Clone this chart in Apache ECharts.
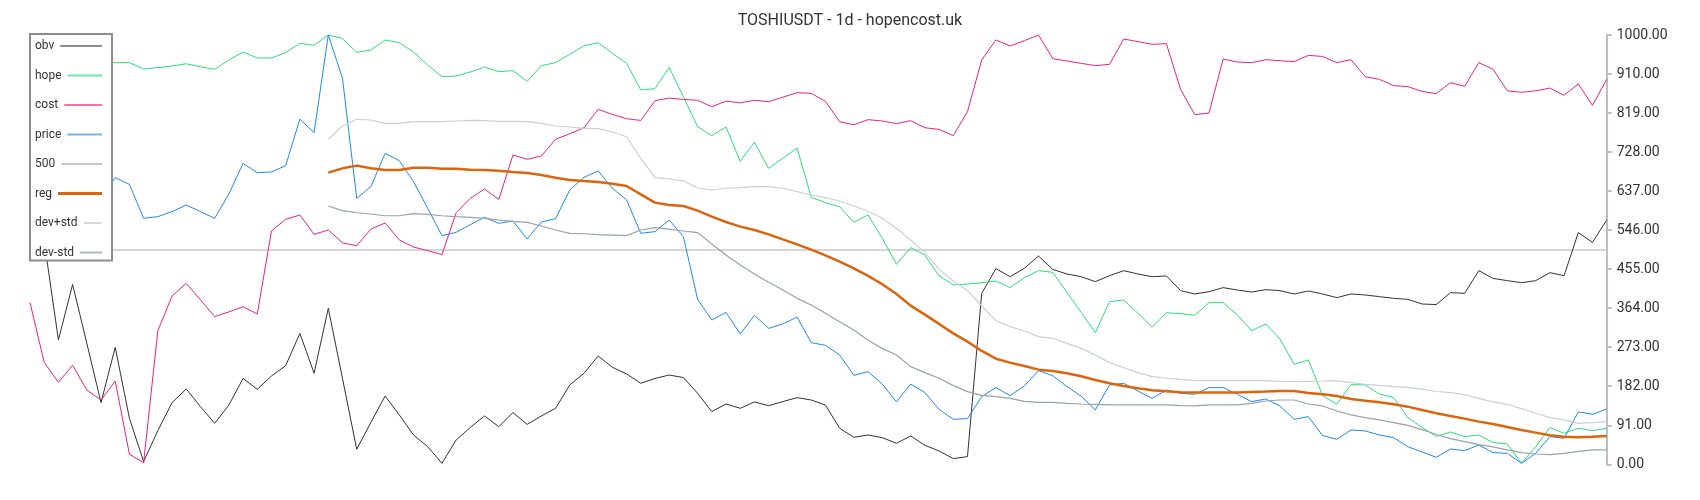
<!DOCTYPE html>
<html>
<head>
<meta charset="utf-8">
<script src="https://cdn.jsdelivr.net/npm/echarts@6/dist/echarts.min.js"></script>
<style>
html,body{margin:0;padding:0;background:#fff;}
#chart{width:1700px;height:500px;}
</style>
</head>
<body>
<div id="chart"></div>
<script>
// ---- data ----
const titleText = 'TOSHIUSDT - 1d - hopencost.uk';
const seriesNames = ['obv', 'hope', 'cost', 'price', '500', 'reg', 'dev+std', 'dev-std'];
const yTickLabels = ['0.00','91.00','182.00','273.00','364.00','455.00','546.00','637.00','728.00','819.00','910.00','1000.00'];
const level500 = 500;

const obv = [620,520,289.6,419,282,143.6,272.5,107,6.2,78.4,143.6,175.5,134.3,95.5,138,200,174.7,205.7,229.8,305,
212,363.4,200,35,97.8,159,115,68.3,41,2.3,56.7,86,112.6,87.7,120.3,93,112.6,130.4,184.8,212,
252.3,226,210.4,188.7,200,208,202,165.4,122.7,140.5,130.4,145.2,136.6,146,155.3,149.8,138,83.9,62.9,68.3,
62,49,66,44.3,31,13.2,17.9,398.3,455.7,437,456.5,485.2,454,443.3,437,425.5,439.4,451,443.3,437,
438.7,404.5,396.7,402,411.5,406,401.4,406.8,404.5,396.7,403.7,396.7,388.2,396.7,394.4,390.5,386.6,384.3,373.4,372,
399.8,398.3,451,433,427.8,423,427.8,446.4,439.4,539.6,517,569];

const hope = [930,935,932,928,934,936,935.6,935.6,920.8,924,927.8,933,926,920,941.8,960.4,946.4,946.4,958.9,980.6,
976,1000,992,959.6,965,988.4,982,960.4,930,903,904.5,913.8,925.5,914.6,917,892,928.6,935.6,955,975,
982,957.3,934,872,875,924.7,856,786.5,765.5,785.7,705.7,750,689.4,712.7,736.8,622,609.5,600,563.7,580.7,
526.4,465.8,504.7,487.6,438.7,417.7,420,423,427,411.5,434.8,451,447.2,400.6,354,306.7,378.9,382.8,351.7,319,
353,351,347,376.6,376.6,347.8,311.3,327,292,233,243,160,139.8,185.6,184.8,163.8,155.3,108.7,86,65,
75.3,64.4,68.3,50.5,47.4,2.3,41,85.4,72.2,83.9,78.4,83.9];

const cost = [376.6,237.6,191,230.6,173,149.8,194,23.3,3.9,311,392,421.6,382.8,344,355,367,350,543.5,570.7,580.7,
535.7,545.8,516,509,548,562,522.5,506,497.7,488.4,586,619.6,641.3,617,720.5,710.4,718.2,757,770,784,
827,815,805,801,847,853,850,848,833,846,842,848,844.7,855,865.7,864,845.5,798,791,802.8,
799.7,793.5,800.5,784,780,765.5,821.4,941.8,988.4,974.4,986.8,1000,945,939.4,934,928.6,931.7,990.7,984.5,978.3,
979.8,873.4,814.4,818.3,944,937,935.6,942.5,940,938,952.6,950,935.6,942.5,903,896.7,882,879.7,868.5,863.5,
889,880.4,935.6,920,870,866.5,870,876.5,859.5,886,836,896.7];

const price = [650,640,655,630,625,617,667.7,652,573,576.9,588.5,604,588.5,573,629.7,701,679.3,681,695.7,804,
772.5,1000,899,619.6,646.7,724.4,707.3,658.4,596.3,532.6,540.4,558.2,575.3,561.3,566.8,524.8,564.4,572.2,639,668.5,
683.2,642.9,615.7,538,542,569,530,384.3,336,354,303.6,347,316.8,326.9,343,283.4,277.2,254.7,207.3,215.8,
187,145.2,187,167,128,104.8,106.4,157.6,178.6,160,182.5,218.2,206.5,181,159,126.6,184.8,188.7,170.8,153.4,
173,165.4,163,178.6,178.6,163,146,152,135.9,104.8,111,66.8,58.2,80,77.6,68.3,62,41,28.7,16.3,
35.7,31.8,45,27.2,25.6,2.3,25.6,64.4,60.6,122,116.5,128.9];

const reg = [null,null,null,null,null,null,null,null,null,null,null,null,null,null,null,null,null,null,null,null,
null,679.3,689.4,695.7,689.4,685.6,685.6,691,691,688.5,688.5,686.3,685.6,684,681,678.6,674,667.7,662.3,660,
657.6,653.7,648.3,628.9,609.5,604,601.7,590.8,576.9,564.4,553.6,545.8,535.7,524,512.4,500,486.8,472,456.5,439,
419.3,396.7,369.6,348.6,327,305,285.7,264,246,236.8,229,220.5,217.4,212,205,196.4,188.7,182.5,177,172.7,
170,167.7,167,167,167,167,168.5,169.3,170.8,170.8,166,163,159,152,148.3,144.4,139.8,134.3,126.6,118.8,
112.6,106.4,99.4,94,87,80,73.8,67.5,64.4,62.9,64.4,66];

const devPlus = [null,null,null,null,null,null,null,null,null,null,null,null,null,null,null,null,null,null,null,null,
null,757,788,803.6,802,794.3,794.3,798,798,798,799.7,801,800.5,799,799,798,794.3,788,785.7,782.6,
781.8,774,763,712.7,667.7,664.6,660,643.6,639,643,644.4,646.7,646.7,643,635,627.3,621,613.4,601.7,589.5,
573,549.7,522.5,493,454,427,404.5,368.8,334.6,320.7,310.6,297.4,293.5,281.8,270,254.7,236.8,225,213.5,204.2,
201,198,195.7,195,195,195,195,195,193.3,192.5,193.3,194,195,190.2,186.3,184,181,179,175,169.6,
167,162.3,153.7,145.2,139.8,129.7,118.8,108.7,103.3,95.5,97,99.4];

const devMinus = [null,null,null,null,null,null,null,null,null,null,null,null,null,null,null,null,null,null,null,null,
null,601.7,590.8,586,583,579,579,583.9,582.3,579,576.9,575.3,573,569,566,563.7,555,545.8,538,537,
535,534,532.6,545.8,551.2,548,543.5,539.6,513.2,487.6,464.3,443.3,424,406,386.6,371,351.7,332.3,312.9,289,
270,254.7,227.5,213.5,200.3,183.2,169.3,160.7,157.6,153.7,146.7,144.4,144.4,142,140.5,139.8,138.2,138.2,138.2,138.2,
138.2,136.6,135.9,138.2,138.2,138.2,142,147.5,149.8,149.8,140.5,135.9,124.2,115,108.7,103.3,97,90.8,80.8,69.5,
59.8,52.8,45.8,40.4,33.4,27.2,24,22.5,25.6,30.3,33.4,33.4];

// category axis (hidden): one slot per daily bar
const categories = obv.map((_, i) => String(i + 1));

// ---- styles ----
const colors = {
  'obv': '#333333', 'hope': '#2bdc7a', 'cost': '#e8237f', 'price': '#2288e8',
  '500': '#c8c8c8', 'reg': '#db650c', 'dev+std': '#c9d1d7', 'dev-std': '#97a3ac'
};
const widths = { 'obv': 1, 'hope': 1, 'cost': 1, 'price': 1, '500': 1.5, 'reg': 2.5, 'dev+std': 1.2, 'dev-std': 1.2 };
const legendIconColors = {
  'obv': '#8c8c8c', 'hope': '#72e9a8', 'cost': '#ef74ad', 'price': '#74b3ef',
  '500': '#c6c6c6', 'reg': '#d9650e', 'dev+std': '#d3d9dd', 'dev-std': '#aeb8be'
};

const FONT = 'Roboto, "Noto Sans", sans-serif';
const cv = document.createElement('canvas').getContext('2d');
cv.font = '12px Roboto';
const legendInner = 67; // text + gap + line
const rich = { t: { fontSize: 12, fontFamily: FONT, color: '#333', lineHeight: 14, padding: [0, 6, 0, 0] } };
seriesNames.forEach((n, i) => {
  const tw = cv.measureText(n).width;
  rich['l' + i] = { width: Math.max(8, legendInner - tw - 6), height: n === 'reg' ? 3 : 2, backgroundColor: legendIconColors[n] };
});

function lineSeries(name, data) {
  return {
    name, type: 'line', data, showSymbol: false, symbol: 'none',
    connectNulls: false, silent: true,
    color: colors[name],
    lineStyle: { color: colors[name], width: widths[name] },
    emphasis: { disabled: true }
  };
}

const chart = echarts.init(document.getElementById('chart'), null, { renderer: 'canvas' });
chart.setOption({
  animation: false,
  backgroundColor: '#fff',
  title: {
    text: titleText, left: 'center', top: 8,
    textStyle: { fontSize: 16, fontWeight: 'normal', color: '#333', fontFamily: FONT }
  },
  legend: {
    orient: 'vertical', left: 30, top: 34, z: 20,
    data: seriesNames,
    icon: 'none', itemWidth: 0, itemHeight: 14, itemGap: 16.5,
    padding: [5, 10, 2, 0],
    backgroundColor: '#fff', borderColor: '#8c8c8c', borderWidth: 2,
    selectedMode: false,
    formatter: (name) => '{t|' + name + '}{l' + seriesNames.indexOf(name) + '|}',
    textStyle: { rich, fontSize: 12, fontFamily: FONT, color: '#333' }
  },
  grid: { left: 30, right: 93.3, top: 35, bottom: 35.7, containLabel: false },
  xAxis: {
    type: 'category', data: categories, boundaryGap: false, show: false
  },
  yAxis: {
    type: 'value', position: 'right', min: 0, max: 1000, interval: 1000 / 11,
    axisLine: { show: true, lineStyle: { color: '#b7c0c6', width: 2 } },
    axisTick: { show: true, length: 5, lineStyle: { color: '#b7c0c6', width: 2 } },
    splitLine: { show: false },
    axisLabel: {
      color: '#333', fontSize: 14, fontFamily: FONT, margin: 10,
      formatter: (v) => yTickLabels[Math.round(v / (1000 / 11))]
    }
  },
  series: [
    lineSeries('obv', obv),
    lineSeries('hope', hope),
    lineSeries('cost', cost),
    lineSeries('price', price),
    Object.assign(lineSeries('500', []), {
      markLine: {
        silent: true, symbol: 'none', animation: false, z: 2,
        label: { show: false },
        lineStyle: { color: colors['500'], width: widths['500'], type: 'solid' },
        emphasis: { disabled: true },
        data: [{ yAxis: level500 }]
      }
    }),
    lineSeries('reg', reg),
    lineSeries('dev+std', devPlus),
    lineSeries('dev-std', devMinus)
  ]
});
</script>
</body>
</html>
